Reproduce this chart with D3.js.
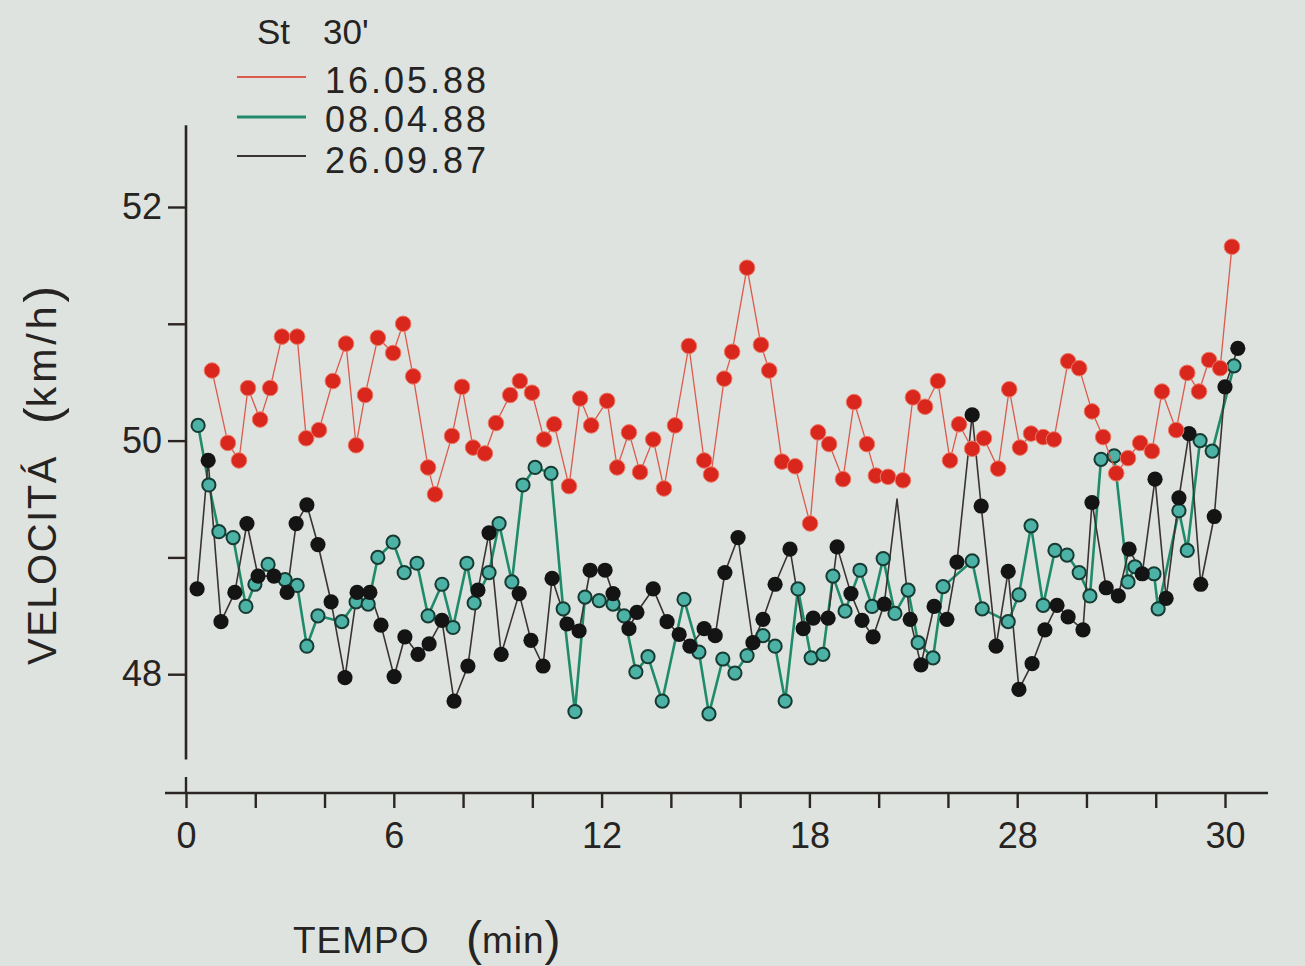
<!DOCTYPE html>
<html>
<head>
<meta charset="utf-8">
<script src="https://cdn.jsdelivr.net/npm/d3@7"></script>
<style>
  html, body { margin: 0; padding: 0; background: #dee3df; }
  svg { display: block; }
  text { font-family: "Liberation Sans", Arial, sans-serif; fill: #262422; }
</style>
</head>
<body>
<svg id="chart" width="1305" height="966"></svg>
<script>
// ---- data (time in minutes, speed in km/h) ----
const seriesNames = ["16.05.88", "08.04.88", "26.09.87"];

const redTime = [0.75,1.21,1.53,1.79,2.14,2.43,2.77,3.21,3.47,3.84,4.24,4.62,4.91,5.17,5.54,5.98,6.27,6.56,6.99,7.19,7.68,7.97,8.29,8.63,8.95,9.36,9.64,9.99,10.34,10.63,11.06,11.38,11.70,12.16,12.45,12.79,13.11,13.49,13.80,14.12,14.52,14.96,15.16,15.54,15.77,16.20,16.60,16.84,17.21,17.59,18.02,18.25,18.57,18.97,19.29,19.66,19.92,20.27,20.70,20.99,21.34,21.71,22.06,22.32,22.70,23.04,23.45,23.77,24.08,24.40,24.75,25.06,25.47,25.79,26.16,26.48,26.86,27.20,27.55,27.89,28.18,28.59,28.91,29.25,29.54,29.86,30.20];
const redSpeed = [50.60,49.98,49.83,50.45,50.18,50.45,50.89,50.89,50.02,50.09,50.51,50.83,49.96,50.39,50.88,50.75,51.00,50.55,49.77,49.54,50.04,50.46,49.94,49.89,50.15,50.39,50.51,50.41,50.01,50.14,49.61,50.36,50.13,50.34,49.77,50.07,49.73,50.01,49.59,50.13,50.81,49.83,49.71,50.53,50.76,51.48,50.82,50.60,49.82,49.78,49.29,50.07,49.97,49.67,50.33,49.97,49.70,49.69,49.66,50.37,50.29,50.51,49.83,50.14,49.93,50.02,49.76,50.44,49.94,50.06,50.03,50.01,50.68,50.62,50.25,50.03,49.72,49.85,49.98,49.91,50.42,50.09,50.58,50.42,50.69,50.62,51.66];

const greenTime = [0.35,0.66,0.95,1.36,1.73,1.99,2.37,2.86,3.21,3.49,3.81,4.50,4.91,5.26,5.54,5.98,6.30,6.67,6.99,7.39,7.71,8.11,8.32,8.75,9.04,9.41,9.73,10.08,10.54,10.89,11.23,11.52,11.93,12.33,12.65,12.99,13.34,13.75,14.38,14.81,15.10,15.50,15.85,16.20,16.66,17.01,17.30,17.67,18.05,18.39,18.68,19.03,19.46,19.81,20.13,20.47,20.85,21.14,21.57,21.86,22.70,22.99,23.74,24.05,24.40,24.75,25.09,25.44,25.79,26.10,26.42,26.80,27.20,27.40,27.95,28.07,28.67,28.91,29.28,29.63,30.26];
const greenSpeed = [50.13,49.62,49.22,49.17,48.58,48.77,48.94,48.81,48.76,48.24,48.50,48.45,48.62,48.60,49.00,49.13,48.87,48.95,48.50,48.77,48.40,48.95,48.61,48.87,49.29,48.79,49.62,49.77,49.72,48.56,47.68,48.66,48.63,48.60,48.50,48.02,48.15,47.77,48.64,48.19,47.66,48.13,48.01,48.16,48.33,48.24,47.77,48.73,48.14,48.17,48.84,48.54,48.89,48.58,48.99,48.52,48.72,48.27,48.14,48.75,48.97,48.56,48.45,48.68,49.27,48.59,49.06,49.02,48.87,48.67,49.84,49.87,48.79,48.92,48.86,48.56,49.40,49.06,50.00,49.91,50.64];

const blackTime = [0.32,0.64,1.01,1.41,1.76,2.08,2.54,2.92,3.18,3.49,3.81,4.19,4.59,4.94,5.31,5.63,6.01,6.32,6.70,7.02,7.39,7.74,8.14,8.43,8.75,9.10,9.62,9.96,10.31,10.57,11.00,11.35,11.67,12.10,12.33,12.79,13.02,13.49,13.89,14.24,14.55,14.96,15.28,15.56,15.94,16.37,16.66,17.01,17.44,17.82,18.11,18.54,18.80,19.20,19.52,19.84,20.16,20.53,20.91,21.22,21.60,21.97,22.26,22.70,22.96,23.39,23.74,24.05,24.43,24.80,25.15,25.47,25.90,26.16,26.57,26.92,27.23,27.61,27.98,28.30,28.67,28.96,29.30,29.69,30.00,30.37];
const blackSpeed = [48.73,49.83,48.45,48.70,49.29,48.84,48.84,48.70,49.29,49.45,49.11,48.62,47.97,48.70,48.70,48.42,47.98,48.32,48.17,48.26,48.46,47.77,48.07,48.72,49.21,48.17,48.69,48.29,48.07,48.82,48.43,48.37,48.89,48.89,48.69,48.39,48.53,48.73,48.45,48.34,48.24,48.39,48.33,48.87,49.17,48.27,48.47,48.77,49.07,48.39,48.48,48.48,49.09,48.69,48.46,48.32,48.60,49.50,48.47,48.08,48.58,48.47,48.96,50.22,49.44,48.24,48.88,47.87,48.09,48.38,48.59,48.49,48.38,49.47,48.74,48.67,49.07,48.86,49.67,48.65,49.51,50.06,48.77,49.35,50.46,50.79];
// vertex drawn without a dot on the original
const blackNoDot = [20.53];

const xTickValues = [0,2,4,6,8,10,12,14,16,18,20,22,24,26,28,30];
const xTickLabels = {0:"0", 6:"6", 12:"12", 18:"18", 24:"28", 30:"30"};
const yTickValues = [48,49,50,51,52];
const yTickLabels = {48:"48", 50:"50", 52:"52"};

// ---- drawing ----
const svg = d3.select("#chart");
svg.append("rect").attr("width",1305).attr("height",966).attr("fill","#dee3df");

const x = d3.scaleLinear().domain([0,30]).range([186,1225]);
const y = d3.scaleLinear().domain([47,52]).range([791,207]);

const axisColor = "#2a2522";

svg.append("line").attr("x1",x(0)).attr("x2",x(0))
  .attr("y1",y(52.7)).attr("y2",y(47.27))
  .attr("stroke",axisColor).attr("stroke-width",2.6);
const xAxisY = y(47) + 2;
svg.append("line").attr("x1",165).attr("x2",1268)
  .attr("y1",xAxisY).attr("y2",xAxisY)
  .attr("stroke",axisColor).attr("stroke-width",2.6);
svg.append("line").attr("x1",x(0)).attr("x2",x(0))
  .attr("y1",xAxisY-16).attr("y2",xAxisY)
  .attr("stroke",axisColor).attr("stroke-width",2.4);

const xAxis = d3.axisBottom(x).tickValues(xTickValues).tickSize(15).tickPadding(14)
  .tickFormat(d => xTickLabels[d] || "");
const gx = svg.append("g").attr("transform",`translate(0,${xAxisY})`).call(xAxis);
gx.select(".domain").remove();
gx.selectAll(".tick line").attr("stroke",axisColor).attr("stroke-width",2.4);
gx.selectAll(".tick text").style("font-size","36px").style("font-family","Liberation Sans, Arial, sans-serif").attr("fill","#262422");

const yAxis = d3.axisLeft(y).tickValues(yTickValues).tickSize(18).tickPadding(6)
  .tickFormat(d => yTickLabels[d] || "");
const gy = svg.append("g").attr("transform",`translate(${x(0)},0)`).call(yAxis);
gy.select(".domain").remove();
gy.selectAll(".tick line").attr("stroke",axisColor).attr("stroke-width",2.4);
gy.selectAll(".tick text").style("font-size","36px").style("font-family","Liberation Sans, Arial, sans-serif").attr("fill","#262422");

const red = redTime.map((t,i)=>({t, v:redSpeed[i]}));
const green = greenTime.map((t,i)=>({t, v:greenSpeed[i]}));
const black = blackTime.map((t,i)=>({t, v:blackSpeed[i]}));

const line = d3.line().x(d=>x(d.t)).y(d=>y(d.v));

const colors = {
  redLine: "#dc5a4c", redDot: "#d9271d",
  greenLine: "#1f8b6b", greenDot: "#4db2a6", greenStroke: "#173a32",
  blackLine: "#3a3331", blackDot: "#151414"
};

svg.append("path").datum(green).attr("d",line).attr("fill","none")
  .attr("stroke",colors.greenLine).attr("stroke-width",2.6).attr("stroke-linejoin","round");
svg.append("path").datum(black).attr("d",line).attr("fill","none")
  .attr("stroke",colors.blackLine).attr("stroke-width",1.6).attr("stroke-linejoin","round");

svg.append("g").selectAll("circle").data(green).join("circle")
  .attr("cx",d=>x(d.t)).attr("cy",d=>y(d.v)).attr("r",6.6)
  .attr("fill",colors.greenDot).attr("stroke",colors.greenStroke).attr("stroke-width",2);
svg.append("g").selectAll("circle").data(black.filter(d=>!blackNoDot.includes(d.t))).join("circle")
  .attr("cx",d=>x(d.t)).attr("cy",d=>y(d.v)).attr("r",7.6)
  .attr("fill",colors.blackDot);

svg.append("path").datum(red).attr("d",line).attr("fill","none")
  .attr("stroke",colors.redLine).attr("stroke-width",1.3).attr("stroke-linejoin","round");
svg.append("g").selectAll("circle").data(red).join("circle")
  .attr("cx",d=>x(d.t)).attr("cy",d=>y(d.v)).attr("r",7.8)
  .attr("fill",colors.redDot).attr("stroke","#ec7a66").attr("stroke-width",1);

// legend
svg.append("text").attr("x",257).attr("y",44).style("font-size","35px").text("St");
svg.append("text").attr("x",323).attr("y",44).style("font-size","35px").text("30'");
const legendRows = [
  {name: seriesNames[0], color: colors.redLine, w: 2.2, y: 77, ty: 93},
  {name: seriesNames[1], color: colors.greenLine, w: 3, y: 117, ty: 132},
  {name: seriesNames[2], color: colors.blackLine, w: 2.2, y: 156, ty: 173}
];
const lg = svg.append("g");
lg.selectAll("line").data(legendRows).join("line")
  .attr("x1",237).attr("x2",306).attr("y1",d=>d.y).attr("y2",d=>d.y)
  .attr("stroke",d=>d.color).attr("stroke-width",d=>d.w);
lg.selectAll("text").data(legendRows).join("text")
  .attr("x",325).attr("y",d=>d.ty).style("font-size","36px").style("letter-spacing","3px")
  .text(d=>d.name);

// axis titles
const xt = svg.append("text").attr("x",293).attr("y",953).style("font-size","37px");
xt.append("tspan").style("letter-spacing","1px").text("TEMPO");
xt.append("tspan").attr("x",466).attr("dy",2).style("font-size","48px").text("(");
xt.append("tspan").attr("dy",-2).style("letter-spacing","1px").text("min");
xt.append("tspan").attr("dy",2).style("font-size","48px").text(")");

svg.append("text").attr("transform","translate(56,665) rotate(-90)")
  .style("font-size","40px").style("letter-spacing","1.5px").text("VELOCITÁ");
const yt2 = svg.append("text").attr("transform","translate(56,424) rotate(-90)").style("font-size","41px");
yt2.append("tspan").attr("dy",3).style("font-size","50px").text("(");
yt2.append("tspan").attr("dy",-3).style("letter-spacing","4px").text("km/h");
yt2.append("tspan").attr("dy",3).style("font-size","50px").text(")");
</script>
</body>
</html>
